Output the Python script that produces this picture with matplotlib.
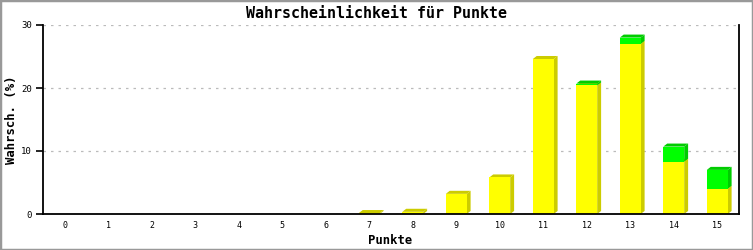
import matplotlib.pyplot as plt
from matplotlib.patches import Polygon, Rectangle

punkte = list(range(16))
gelb = [0, 0, 0, 0, 0, 0, 0, 0.15, 0.35, 3.2, 5.8, 24.6, 20.4, 27.0, 8.3, 4.0]
gruen = [0, 0, 0, 0, 0, 0, 0, 0, 0, 0, 0, 0, 0.3, 1.0, 2.4, 3.0]
y_ticks = [0, 10, 20, 30]

farben = [('#FFFF00', '#CCCC00'), ('#00FF00', '#00CC00')]
breite = 0.48
dx, dy = 0.09, 0.48  # Versatz fuer den 3D-Effekt

fig = plt.figure(figsize=(7.53, 2.5), dpi=100)
fig.patch.set_facecolor('white')
fig.patches.append(Rectangle((0, 0), 1, 1, transform=fig.transFigure, fill=False,
                             edgecolor='#999999', linewidth=2.5))
ax = fig.add_axes([43 / 753, 36 / 250, 696 / 753, 189 / 250])

font = 'DejaVu Sans Mono'

for x, g, gr in zip(punkte, gelb, gruen):
    unten = 0
    for wert, (hell, dunkel) in zip([g, gr], farben):
        if wert <= 0:
            continue
        oben = unten + wert
        x0, x1 = x - breite / 2, x + breite / 2
        ax.bar(x, wert, bottom=unten, width=breite, color=hell, linewidth=0, zorder=3)
        seite = Polygon([(x1, unten), (x1 + dx, unten + dy), (x1 + dx, oben + dy), (x1, oben)],
                        closed=True, facecolor=dunkel, linewidth=0, zorder=2)
        ax.add_patch(seite)
        deckel = Polygon([(x0, oben), (x0 + dx, oben + dy), (x1 + dx, oben + dy), (x1, oben)],
                         closed=True, facecolor=dunkel, linewidth=0, zorder=2)
        ax.add_patch(deckel)
        unten = oben

ax.set_xlim(-0.5, 15.5)
ax.set_ylim(0, 30)
ax.set_xticks(punkte)
ax.set_xticklabels([str(p) for p in punkte], fontsize=6, family=font)
ax.set_yticks(y_ticks)
ax.set_yticklabels([str(t) for t in y_ticks], fontsize=6.5, family=font)
ax.tick_params(axis='x', length=0, pad=5)
ax.tick_params(axis='y', length=5, width=1.2, pad=3)
ax.yaxis.grid(True, linestyle=(0, (2, 4)), color='#BBBBBB', linewidth=0.9, zorder=0)
ax.set_axisbelow(True)
for s in ['left', 'bottom', 'right']:
    ax.spines[s].set_linewidth(1.3)
    ax.spines[s].set_zorder(5)
ax.spines['top'].set_visible(False)

fig.text(0.5, 1 - 13 / 250, 'Wahrscheinlichkeit für Punkte', fontsize=10.8, fontweight='bold',
         family=font, ha='center', va='center')
fig.text(390 / 753, 1 - 240 / 250, 'Punkte', fontsize=8.8, fontweight='bold', family=font,
         ha='center', va='center')
fig.text(12 / 753, 1 - 120 / 250, 'Wahrsch. (%)', fontsize=8.8, fontweight='bold', family=font,
         ha='center', va='center', rotation=90)

fig.savefig('out.png', dpi=100)
